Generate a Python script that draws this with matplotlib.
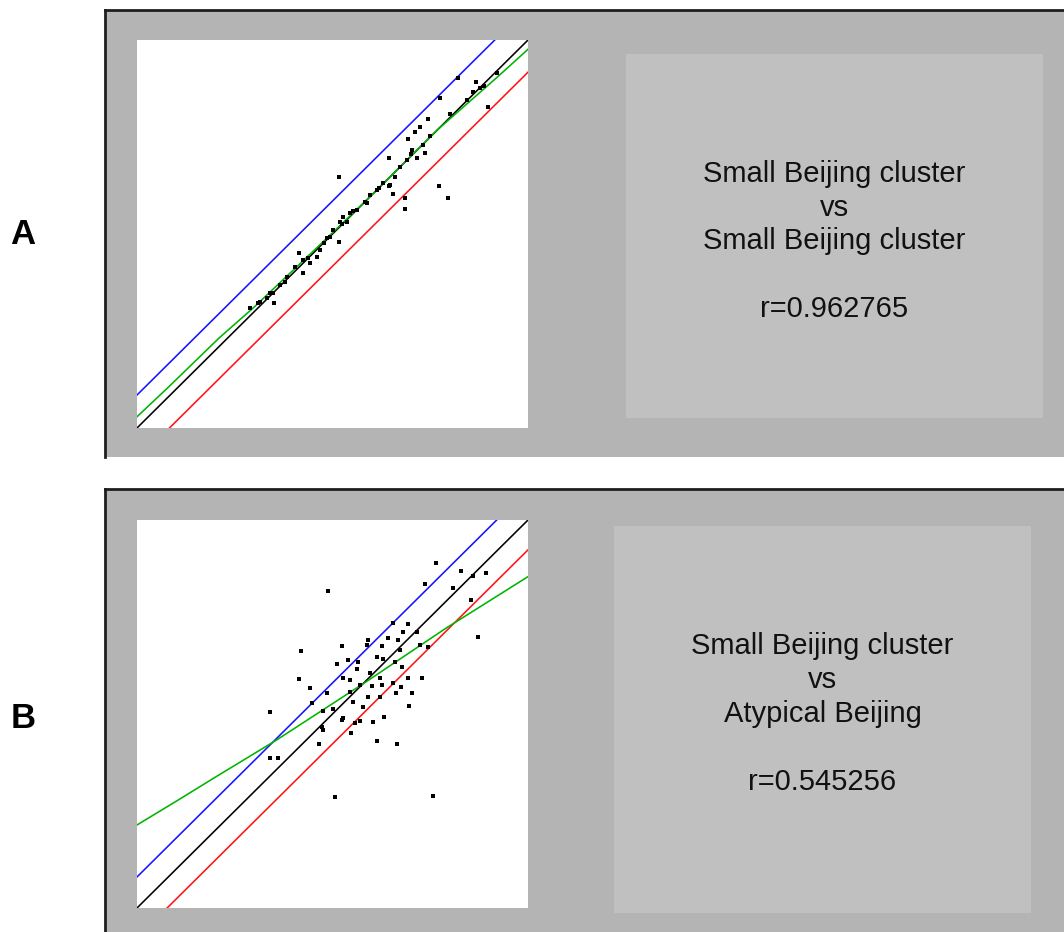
import matplotlib
matplotlib.use("Agg")
from matplotlib import pyplot as plt
import numpy as np

plt.rcParams['font.family'] = ['Liberation Sans', 'DejaVu Sans']

# ---- data (axis units 0..1) ----
# panel A: small Beijing cluster vs small Beijing cluster
a_x = [0.822, 0.775, 0.866, 0.887, 0.897, 0.920, 0.843, 0.877, 0.743, 0.724,
       0.711, 0.692, 0.732, 0.737, 0.717, 0.703, 0.645, 0.690, 0.673, 0.660,
       0.647, 0.630, 0.613, 0.596, 0.583, 0.645, 0.656, 0.772, 0.796, 0.685,
       0.685, 0.517, 0.562, 0.545, 0.528, 0.519, 0.536, 0.502, 0.494, 0.517,
       0.477, 0.468, 0.415, 0.425, 0.404, 0.425, 0.383, 0.366, 0.349, 0.332,
       0.351, 0.289, 0.310, 0.442, 0.460, 0.315, 0.379, 0.438, 0.485, 0.524,
       0.587, 0.340, 0.553, 0.620, 0.700, 0.750, 0.800, 0.860]
a_y = [0.903, 0.850, 0.891, 0.881, 0.827, 0.914, 0.845, 0.876, 0.796, 0.777,
       0.764, 0.744, 0.729, 0.708, 0.697, 0.716, 0.697, 0.691, 0.673, 0.648,
       0.626, 0.631, 0.613, 0.601, 0.583, 0.624, 0.603, 0.624, 0.592, 0.592,
       0.564, 0.648, 0.562, 0.553, 0.545, 0.532, 0.532, 0.510, 0.493, 0.479,
       0.476, 0.459, 0.452, 0.433, 0.416, 0.399, 0.390, 0.369, 0.347, 0.334,
       0.323, 0.310, 0.321, 0.424, 0.441, 0.326, 0.377, 0.437, 0.489, 0.527,
       0.579, 0.347, 0.558, 0.618, 0.705, 0.752, 0.810, 0.866]
a_fit_x = [0.0, 0.08, 0.21, 0.30, 0.45, 0.60, 0.77, 0.92, 1.0]
a_fit_y = [0.029, 0.105, 0.232, 0.312, 0.455, 0.600, 0.770, 0.903, 0.976]
a_upper, a_lower = 0.085, -0.083
a_title = "Small Beijing cluster\nvs\nSmall Beijing cluster\n\nr=0.962765"

# panel B: small Beijing cluster vs atypical Beijing
b_x = [0.765, 0.829, 0.893, 0.860, 0.737, 0.809, 0.854, 0.489, 0.873, 0.656,
       0.692, 0.715, 0.681, 0.643, 0.667, 0.592, 0.587, 0.627, 0.524, 0.419,
       0.745, 0.724, 0.673, 0.630, 0.613, 0.540, 0.566, 0.660, 0.511, 0.562,
       0.677, 0.596, 0.621, 0.528, 0.545, 0.694, 0.728, 0.414, 0.442, 0.570,
       0.602, 0.627, 0.656, 0.674, 0.662, 0.704, 0.545, 0.592, 0.621, 0.485,
       0.553, 0.447, 0.696, 0.579, 0.502, 0.475, 0.340, 0.528, 0.524, 0.570,
       0.558, 0.632, 0.603, 0.472, 0.475, 0.547, 0.613, 0.466, 0.664, 0.340,
       0.361, 0.506, 0.758]
b_y = [0.888, 0.869, 0.864, 0.856, 0.835, 0.824, 0.794, 0.818, 0.698, 0.734,
       0.731, 0.711, 0.712, 0.695, 0.691, 0.691, 0.678, 0.676, 0.676, 0.662,
       0.673, 0.678, 0.665, 0.643, 0.648, 0.639, 0.635, 0.635, 0.628, 0.615,
       0.622, 0.605, 0.594, 0.592, 0.588, 0.592, 0.594, 0.590, 0.566, 0.575,
       0.573, 0.575, 0.579, 0.569, 0.555, 0.555, 0.557, 0.545, 0.545, 0.555,
       0.532, 0.529, 0.521, 0.517, 0.512, 0.508, 0.506, 0.489, 0.485, 0.483,
       0.478, 0.491, 0.479, 0.467, 0.459, 0.450, 0.430, 0.422, 0.422, 0.387,
       0.387, 0.285, 0.289]
b_fit_x = [0.0, 0.1, 0.2, 0.357, 0.58, 0.79, 1.0]
b_fit_y = [0.214, 0.275, 0.337, 0.433, 0.579, 0.721, 0.854]
b_upper, b_lower = 0.080, -0.077
b_title = "Small Beijing cluster\nvs\nAtypical Beijing\n\nr=0.545256"

W, H = 1064, 932


def box(x0, y0, x1, y1):
    # pixel box (top-left origin) -> figure fraction rect
    return [x0 / W, 1 - y1 / H, (x1 - x0) / W, (y1 - y0) / H]


fig = plt.figure(figsize=(W / 100, H / 100), dpi=100)


def panel(top, bottom, plot_box, text_box, xs, ys, fx, fy, up, lo, title, ty, letter):
    # grey frame with dark left/top border
    fr = fig.add_axes(box(105, top, W + 20, bottom))
    fr.set_facecolor('#b4b4b4')
    fr.set_xticks([])
    fr.set_yticks([])
    for s in ['right', 'bottom']:
        fr.spines[s].set_visible(False)
    for s in ['left', 'top']:
        fr.spines[s].set_linewidth(2)
        fr.spines[s].set_color('#1e1e1e')

    # scatter plot
    ax = fig.add_axes(box(*plot_box))
    ax.set_facecolor('white')
    line = np.array([0.0, 1.0])
    ax.plot(line, line + up, color='#1414ff', lw=1.15)
    ax.plot(line, line, color='black', lw=1.15)
    ax.plot(line, line + lo, color='#ff1414', lw=1.15)
    ax.plot(fx, fy, color='#00b400', lw=1.15)
    ax.plot(xs, ys, 's', color='black', markersize=3.1, markeredgewidth=0)
    ax.set_xlim(0, 1)
    ax.set_ylim(0, 1)
    ax.set_xticks([])
    ax.set_yticks([])
    for s in ax.spines.values():
        s.set_visible(False)

    # text box
    tb = fig.add_axes(box(*text_box))
    tb.set_facecolor('#c0c0c0')
    tb.set_xticks([])
    tb.set_yticks([])
    for s in tb.spines.values():
        s.set_visible(False)
    tb.text(0.5, ty, title, ha='center', va='center', fontsize=21,
            linespacing=1.27, color='#111111')

    # panel letter
    fig.text(23 / W, 1 - ((top + bottom) / 2 + 1) / H, letter, ha='center',
             va='center', fontsize=25, fontweight='bold')


panel(10, 457, (137, 40, 528, 428), (626, 54, 1043, 418),
      a_x, a_y, a_fit_x, a_fit_y, a_upper, a_lower, a_title, 0.485, 'A')
panel(489, 945, (137, 520, 528, 908), (614, 526, 1031, 913),
      b_x, b_y, b_fit_x, b_fit_y, b_upper, b_lower, b_title, 0.515, 'B')

fig.savefig('out.png', dpi=100)
